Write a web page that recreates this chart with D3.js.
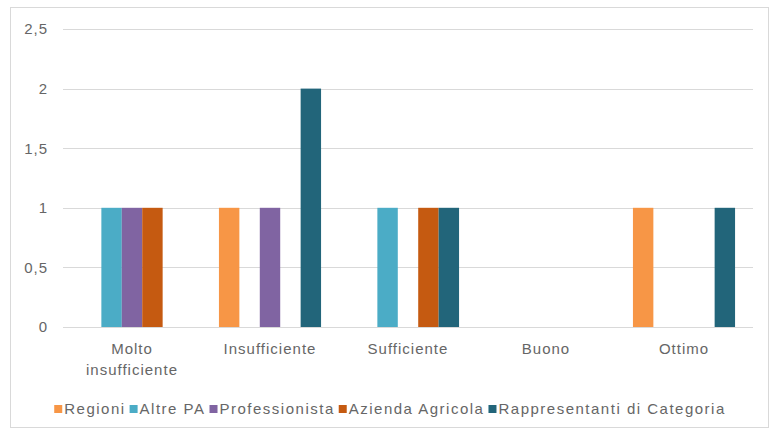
<!DOCTYPE html>
<html>
<head>
<meta charset="utf-8">
<script src="https://cdn.jsdelivr.net/npm/d3@7"></script>
<style>
  body { margin: 0; background: #fff; }
  text { font-family: "Liberation Sans", Arial, sans-serif; fill: #666; font-size: 15px; letter-spacing: 1px; }
  .legend text { letter-spacing: 1.5px; }
</style>
</head>
<body>
<div id="chart"></div>
<script>
var categories = ["Molto insufficiente", "Insufficiente", "Sufficiente", "Buono", "Ottimo"];
var seriesNames = ["Regioni", "Altre PA", "Professionista", "Azienda Agricola", "Rappresentanti di Categoria"];
var colors = ["#F79646", "#4BACC6", "#8064A2", "#C55A11", "#22657A"];
// one array per series, values per category
var regioni = [0, 1, 0, 0, 1];
var altrePA = [1, 0, 1, 0, 0];
var professionista = [1, 1, 0, 0, 0];
var aziendaAgricola = [1, 0, 1, 0, 0];
var rappresentanti = [0, 2, 1, 0, 1];
var yTicks = [0, 0.5, 1, 1.5, 2, 2.5];

var series = [regioni, altrePA, professionista, aziendaAgricola, rappresentanti];

var svgWidth = 772;
var svgHeight = 430;
var margin = { top: 29, right: 19, bottom: 103, left: 63 };
var width = svgWidth - margin.left - margin.right;
var height = svgHeight - margin.top - margin.bottom;

var svg = d3.select("#chart")
  .append("svg")
  .attr("width", svgWidth)
  .attr("height", svgHeight);

// chart border
svg.append("rect")
  .attr("x", 10.5)
  .attr("y", 7.5)
  .attr("width", 758)
  .attr("height", 420)
  .attr("fill", "none")
  .attr("stroke", "#d9d9d9");

var chartGroup = svg.append("g")
  .attr("transform", `translate(${margin.left}, ${margin.top})`);

var x0 = d3.scaleBand()
  .domain(categories)
  .range([0, width])
  .paddingInner(0.26)
  .paddingOuter(0.13);

var x1 = d3.scaleBand()
  .domain(seriesNames)
  .range([0, x0.bandwidth()]);

var y = d3.scaleLinear()
  .domain([0, 2.5])
  .range([height, 0]);

var fmt = d => String(d).replace(".", ",");

// gridlines
chartGroup.append("g")
  .selectAll("line")
  .data(yTicks)
  .enter()
  .append("line")
  .attr("x1", 0)
  .attr("x2", width)
  .attr("y1", d => Math.round(y(d)) + 0.5)
  .attr("y2", d => Math.round(y(d)) + 0.5)
  .attr("stroke", "#d9d9d9")
  .attr("stroke-width", 1);

// y axis labels
var leftAxis = d3.axisLeft(y).tickValues(yTicks).tickFormat(fmt).tickSize(0).tickPadding(15);
var yAxisG = chartGroup.append("g").call(leftAxis);
yAxisG.select(".domain").remove();
yAxisG.attr("font-size", null).attr("font-family", null);

// bars
var groups = chartGroup.selectAll(".cat")
  .data(categories)
  .enter()
  .append("g")
  .attr("class", "cat")
  .attr("transform", d => `translate(${x0(d)}, 0)`);

groups.selectAll("rect")
  .data((c, i) => seriesNames.map((s, j) => ({ s: s, v: series[j][i], color: colors[j] })))
  .enter()
  .append("rect")
  .attr("x", d => x1(d.s))
  .attr("width", x1.bandwidth())
  .attr("y", d => y(d.v))
  .attr("height", d => height - y(d.v))
  .attr("fill", d => d.color);

// category labels
var bottomAxis = d3.axisBottom(x0).tickSize(0).tickPadding(16);
var xAxisG = chartGroup.append("g")
  .attr("transform", `translate(0, ${height})`)
  .call(bottomAxis);
xAxisG.select(".domain").remove();
xAxisG.attr("font-size", null).attr("font-family", null);
xAxisG.selectAll("text")
  .each(function(d) {
    var t = d3.select(this);
    if (d === "Molto insufficiente") {
      t.text(null);
      t.append("tspan").attr("x", 0).attr("dy", "0.71em").text("Molto");
      t.append("tspan").attr("x", 0).attr("dy", "1.4em").text("insufficiente");
      t.attr("dy", null);
    }
  });

// legend
var legend = svg.append("g").attr("class", "legend");
var lx = 0;
seriesNames.forEach(function(name, i) {
  var item = legend.append("g").attr("transform", `translate(${lx}, 0)`);
  item.append("rect")
    .attr("x", 0)
    .attr("y", -9)
    .attr("width", 8)
    .attr("height", 8)
    .attr("fill", colors[i]);
  var t = item.append("text")
    .attr("x", 10)
    .attr("y", 0)
    .text(name);
  lx += 10 + t.node().getComputedTextLength() + 4;
});
legend.attr("transform", `translate(${(svgWidth - lx) / 2 + 6}, 414)`);
</script>
</body>
</html>
